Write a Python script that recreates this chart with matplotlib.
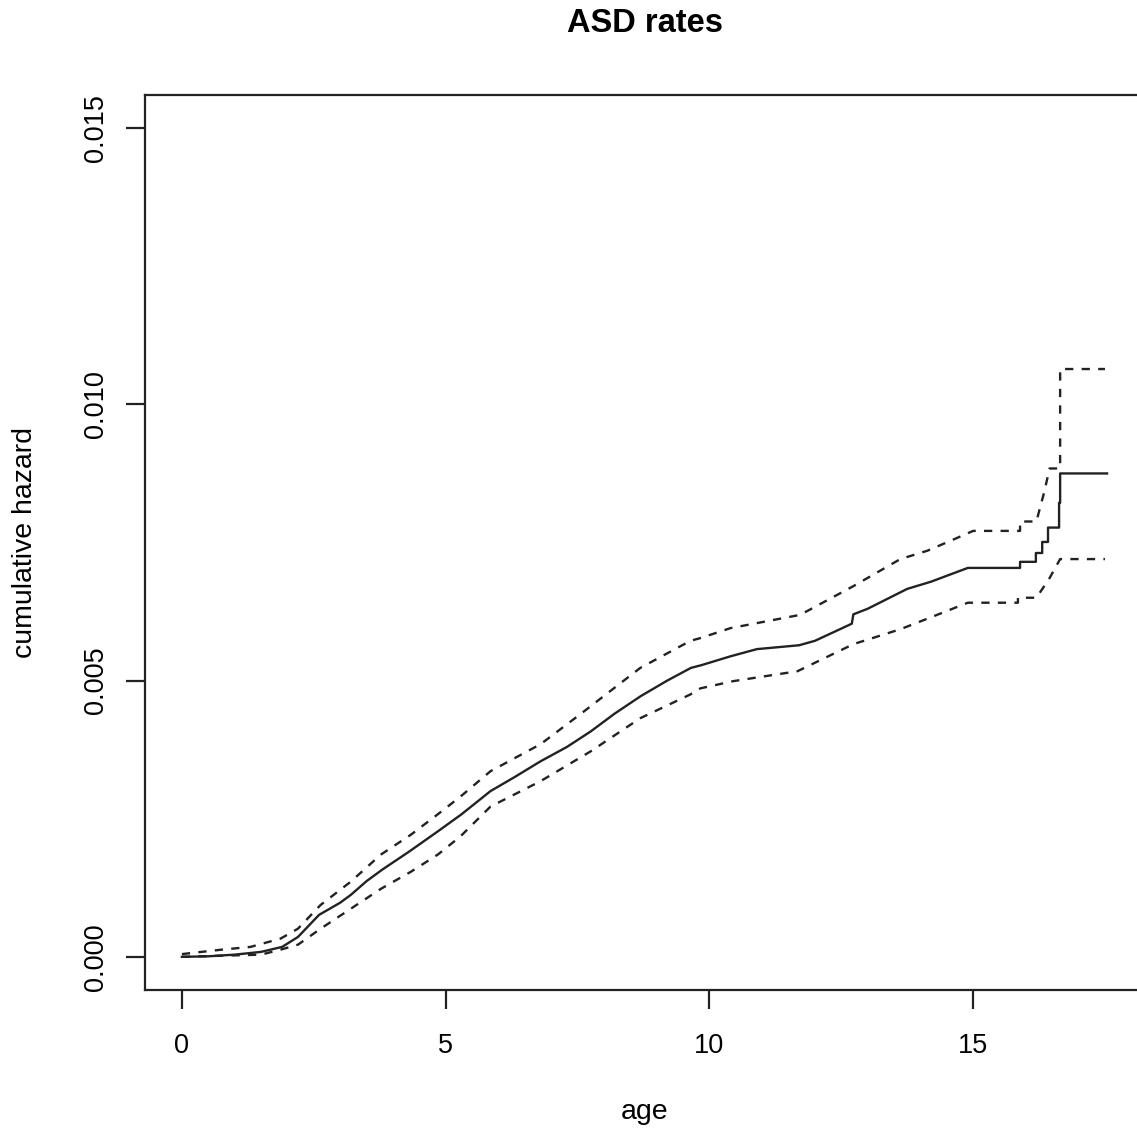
"""Cumulative hazard of ASD by age, R base-graphics look, saved to out.png."""
import matplotlib

matplotlib.use("Agg")
import matplotlib.pyplot as plt

# estimate (solid)
age_est = [0.0, 0.5, 1.0, 1.5, 1.9, 2.2, 2.6, 3.0, 3.2, 3.5, 3.8, 4.3, 4.85,
           5.3, 5.85, 6.3, 6.8, 7.3, 7.75, 8.2, 8.7, 9.2, 9.65, 9.85, 10.4,
           10.9, 11.7, 12.0, 12.7, 12.73, 13.0, 13.75, 14.2, 14.9, 15.89,
           15.89, 16.19, 16.19, 16.31, 16.31, 16.42, 16.42, 16.63, 16.63,
           16.65, 16.65, 17.54]
haz_est = [0.0, 0.00001, 0.00004, 0.00009, 0.00018, 0.00036, 0.00076,
           0.00098, 0.00112, 0.00137, 0.00158, 0.0019, 0.00227, 0.00258,
           0.0030, 0.00325, 0.00354, 0.0038, 0.00408, 0.0044, 0.00472, 0.005,
           0.00523, 0.00528, 0.00544, 0.00557, 0.00564, 0.00572, 0.00603,
           0.0062, 0.0063, 0.00666, 0.00679, 0.00704, 0.00704, 0.00715,
           0.00715, 0.00731, 0.00731, 0.00751, 0.00751, 0.00777, 0.00777,
           0.00822, 0.00822, 0.00875, 0.00875]

# upper confidence band (dashed)
age_hi = [0.0, 0.75, 1.3, 1.87, 2.2, 2.63, 3.2, 3.77, 4.34, 4.85, 5.28, 5.85,
          6.8, 7.55, 8.69, 9.64, 9.83, 10.4, 11.72, 12.73, 13.62, 14.13,
          14.57, 15.0, 15.89, 15.89, 16.2, 16.35, 16.45, 16.65, 16.65, 17.5]
haz_hi = [0.00005, 0.00013, 0.00018, 0.00033, 0.00051, 0.00094, 0.00136,
          0.00185, 0.00221, 0.00258, 0.0029, 0.00336, 0.00385, 0.00439,
          0.00523, 0.00572, 0.00577, 0.00595, 0.00619, 0.00671, 0.0072,
          0.00735, 0.00753, 0.00771, 0.00771, 0.00788, 0.00788, 0.00842,
          0.00884, 0.00884, 0.01064, 0.01064]

# lower confidence band (dashed)
age_lo = [0.0, 1.5, 1.87, 2.2, 2.63, 3.2, 3.77, 4.34, 4.85, 5.28, 5.85, 6.8,
          7.75, 8.69, 9.64, 9.83, 10.45, 11.67, 12.73, 13.62, 14.13, 14.9,
          15.85, 15.85, 16.2, 16.44, 16.65, 17.5]
haz_lo = [0.0, 0.00004, 0.00013, 0.00022, 0.00051, 0.00087, 0.00123,
          0.00154, 0.00185, 0.00218, 0.00272, 0.00318, 0.00372, 0.00432,
          0.00475, 0.00486, 0.00499, 0.00517, 0.00566, 0.00593, 0.00612,
          0.00641, 0.00641, 0.0065, 0.0065, 0.00684, 0.0072, 0.0072]

x_ticks = [0, 5, 10, 15]
y_ticks = [0.000, 0.005, 0.010, 0.015]
y_tick_labels = ["0.000", "0.005", "0.010", "0.015"]

W, H, DPI = 1137, 1133, 100
INK = "#222222"
FONT = "Liberation Sans"
plt.rcParams["font.family"] = [FONT, "DejaVu Sans"]

fig = plt.figure(figsize=(W / DPI, H / DPI), dpi=DPI)
left, right, top, bottom = 145, 1144, 95, 990
ax = fig.add_axes([left / W, 1 - bottom / H, (right - left) / W, (bottom - top) / H])

ax.plot(age_est, haz_est, color=INK, lw=1.7)
for a, h in ((age_hi, haz_hi), (age_lo, haz_lo)):
    ax.plot(a, h, color=INK, lw=1.7, linestyle=(0, (3.5, 3.5)))

ax.set_xlim(-0.70, 18.24)
ax.set_ylim(-0.0006, 0.0156)
ax.set_xticks(x_ticks)
ax.set_xticklabels([str(t) for t in x_ticks])
ax.set_yticks(y_ticks)
ax.set_yticklabels(y_tick_labels, rotation=90, va="center")

for s in ax.spines.values():
    s.set_color(INK)
    s.set_linewidth(1.6)
ax.tick_params(direction="out", length=14, width=1.6, color=INK,
               labelsize=19.5, labelcolor="black", pad=12)
ax.tick_params(axis="x", pad=17)

cx = (left + right) / 2 / W
fig.text(cx, 1 - 23 / H, "ASD rates", ha="center", va="center",
         fontsize=23.5, fontweight="bold")
fig.text(cx, 1 - 1112 / H, "age", ha="center", va="center", fontsize=20.5)
fig.text(25 / W, 1 - 542 / H, "cumulative hazard", ha="center", va="center",
         rotation=90, fontsize=20.5)

fig.savefig("out.png", dpi=DPI)
